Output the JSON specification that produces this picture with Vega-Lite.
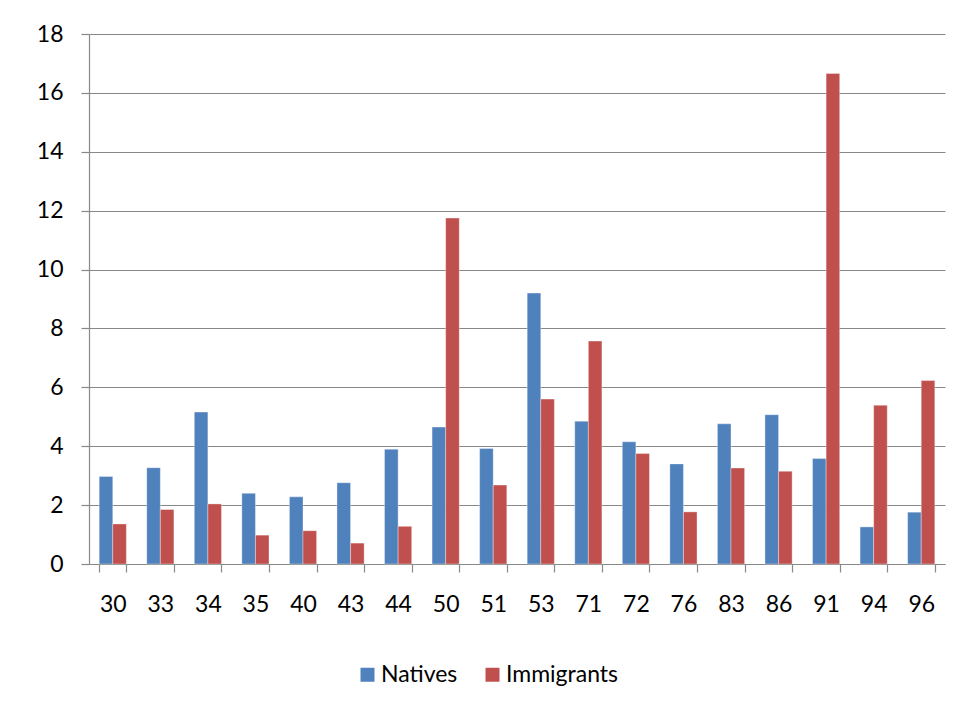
{
  "$schema": "https://vega.github.io/schema/vega-lite/v6.json",
  "autosize": "none",
  "padding": {"left": 89, "top": 34, "right": 18, "bottom": 146},
  "width": 856,
  "height": 530,
  "background": "white",
  "data": {
    "values": [
      {"region": "30", "group": "Natives", "value": 2.97},
      {"region": "30", "group": "Immigrants", "value": 1.36},
      {"region": "33", "group": "Natives", "value": 3.27},
      {"region": "33", "group": "Immigrants", "value": 1.85},
      {"region": "34", "group": "Natives", "value": 5.16},
      {"region": "34", "group": "Immigrants", "value": 2.04},
      {"region": "35", "group": "Natives", "value": 2.40},
      {"region": "35", "group": "Immigrants", "value": 0.98},
      {"region": "40", "group": "Natives", "value": 2.28},
      {"region": "40", "group": "Immigrants", "value": 1.13},
      {"region": "43", "group": "Natives", "value": 2.76},
      {"region": "43", "group": "Immigrants", "value": 0.71},
      {"region": "44", "group": "Natives", "value": 3.90},
      {"region": "44", "group": "Immigrants", "value": 1.28},
      {"region": "50", "group": "Natives", "value": 4.65},
      {"region": "50", "group": "Immigrants", "value": 11.75},
      {"region": "51", "group": "Natives", "value": 3.92},
      {"region": "51", "group": "Immigrants", "value": 2.68},
      {"region": "53", "group": "Natives", "value": 9.20},
      {"region": "53", "group": "Immigrants", "value": 5.60},
      {"region": "71", "group": "Natives", "value": 4.85},
      {"region": "71", "group": "Immigrants", "value": 7.57},
      {"region": "72", "group": "Natives", "value": 4.15},
      {"region": "72", "group": "Immigrants", "value": 3.75},
      {"region": "76", "group": "Natives", "value": 3.40},
      {"region": "76", "group": "Immigrants", "value": 1.77},
      {"region": "83", "group": "Natives", "value": 4.76},
      {"region": "83", "group": "Immigrants", "value": 3.26},
      {"region": "86", "group": "Natives", "value": 5.07},
      {"region": "86", "group": "Immigrants", "value": 3.15},
      {"region": "91", "group": "Natives", "value": 3.58},
      {"region": "91", "group": "Immigrants", "value": 16.66},
      {"region": "94", "group": "Natives", "value": 1.26},
      {"region": "94", "group": "Immigrants", "value": 5.39},
      {"region": "96", "group": "Natives", "value": 1.76},
      {"region": "96", "group": "Immigrants", "value": 6.23}
    ]
  },
  "mark": {"type": "bar", "stroke": "#ffffff", "strokeOpacity": 0.35, "strokeWidth": 1},
  "encoding": {
    "x": {
      "field": "region",
      "type": "nominal",
      "sort": null,
      "title": null,
      "scale": {"paddingInner": 0.4286, "paddingOuter": 0.2143},
      "axis": {
        "labelAngle": 0,
        "tickBand": "extent",
        "tickSize": 8,
        "labelPadding": 21,
        "domainColor": "#888888",
        "tickColor": "#888888",
        "grid": false
      }
    },
    "xOffset": {
      "field": "group",
      "type": "nominal",
      "sort": ["Natives", "Immigrants"],
      "scale": {"paddingInner": 0, "paddingOuter": 0}
    },
    "y": {
      "field": "value",
      "type": "quantitative",
      "title": null,
      "scale": {"domain": [0, 18], "nice": false, "zero": true},
      "axis": {
        "values": [0, 2, 4, 6, 8, 10, 12, 14, 16, 18],
        "tickSize": 8,
        "labelPadding": 18,
        "domainColor": "#888888",
        "tickColor": "#888888",
        "gridColor": "#888888",
        "gridWidth": 1.2
      }
    },
    "color": {
      "field": "group",
      "type": "nominal",
      "title": null,
      "scale": {"domain": ["Natives", "Immigrants"], "range": ["#4F81BD", "#C0504D"]},
      "legend": {
        "orient": "none",
        "direction": "horizontal",
        "legendX": 267,
        "legendY": 629,
        "symbolType": "square",
        "symbolSize": 196,
        "symbolStrokeWidth": 0,
        "labelOffset": 2,
        "columnPadding": 23,
        "padding": 0
      }
    }
  },
  "config": {
    "view": {"stroke": null},
    "font": "Lato",
    "axis": {
      "labelFont": "Lato",
      "labelFontSize": 23,
      "labelColor": "#000000",
      "domainWidth": 1.2,
      "tickWidth": 1.2
    },
    "legend": {
      "labelFont": "Lato",
      "labelFontSize": 23,
      "labelColor": "#000000",
      "labelLimit": 300
    }
  }
}
